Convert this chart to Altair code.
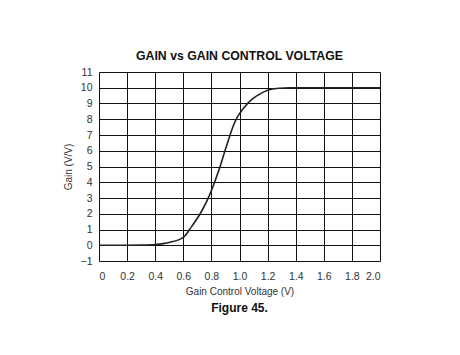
import altair as alt
import pandas as pd

volts = [0, 0.2, 0.3, 0.4, 0.5, 0.6, 0.66, 0.72, 0.77, 0.81, 0.86, 0.9, 0.93, 0.95, 0.975,
         1.0, 1.04, 1.09, 1.15, 1.2, 1.28, 1.36, 1.6, 2.0]
gain = [0, 0, 0.01, 0.05, 0.18, 0.5, 1.2, 2.0, 2.85, 3.7, 4.95, 6.1, 6.92, 7.45, 7.98,
        8.35, 8.83, 9.28, 9.63, 9.84, 9.97, 10.0, 10.0, 10.0]
x_ticks = [0, 0.2, 0.4, 0.6, 0.8, 1.0, 1.2, 1.4, 1.6, 1.8, 2.0]
y_ticks = list(range(-1, 12))

df = pd.DataFrame({"v": volts, "g": gain})
FONT = "Liberation Sans"

line = alt.Chart(df).mark_line(color="#222222", strokeWidth=1.6, interpolate="monotone").encode(
    x=alt.X("v:Q", scale=alt.Scale(domain=[0, 2], nice=False),
            axis=alt.Axis(values=x_ticks, title="Gain Control Voltage (V)",
                          labelExpr="datum.value == 0 ? '0' : format(datum.value, '.1f')",
                          ticks=False, domain=False, grid=True, gridColor="#111111", gridWidth=1,
                          gridOpacity=1, labelPadding=10, titlePadding=5,
                          labelFontSize=10.5, titleFontSize=10, labelColor="#333333",
                          titleColor="#333333", labelFont=FONT, titleFont=FONT,
                          titleFontWeight="normal")),
    y=alt.Y("g:Q", scale=alt.Scale(domain=[-1, 11], nice=False),
            axis=alt.Axis(values=y_ticks, title="Gain (V/V)", ticks=False, domain=False,
                          grid=True, gridColor="#111111", gridWidth=1, gridOpacity=1,
                          labelPadding=7, titlePadding=7, labelFontSize=10.5, titleFontSize=10,
                          labelColor="#333333", titleColor="#333333", labelFont=FONT,
                          titleFont=FONT, titleFontWeight="normal")),
)

fig = alt.Chart(pd.DataFrame({"t": ["Figure 45."]})).mark_text(
    font=FONT, fontSize=12, fontWeight="bold", color="#111111"
).encode(text="t:N", x=alt.value(140.5), y=alt.value(236))

chart = alt.layer(line, fig).properties(
    width=281, height=189,
    title=alt.TitleParams("GAIN vs GAIN CONTROL VOLTAGE", font=FONT, fontSize=12.3,
                          fontWeight="bold", color="#111111", anchor="middle", offset=5),
    autosize=alt.AutoSizeParams(type="none"),
    padding={"left": 99, "top": 72, "right": 80, "bottom": 94},
).configure_view(stroke="#111111", strokeWidth=2).configure(background="white")

chart.save("out.html", embed_options={"renderer": "svg", "actions": False})
